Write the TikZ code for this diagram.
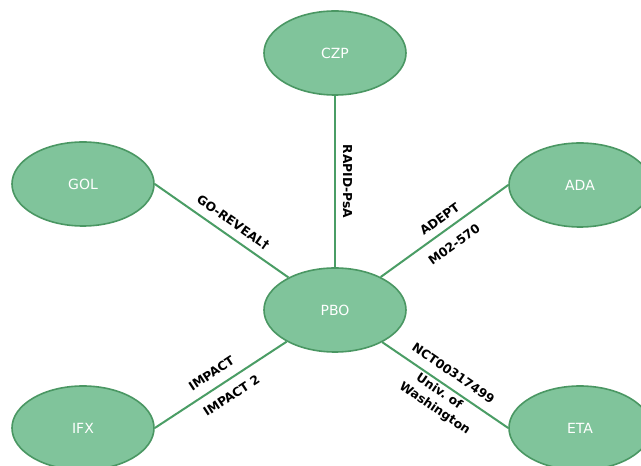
\documentclass[tikz,border=0pt]{standalone}
\usepackage{fontspec}
\setmainfont{DejaVu Sans}
\usetikzlibrary{shapes.geometric}
\definecolor{nodefill}{HTML}{80C49B}
\definecolor{nodeline}{HTML}{4A9763}
\definecolor{edgeline}{HTML}{4A9D65}
\begin{document}
\begin{tikzpicture}[x=1pt,y=1pt,
  ent/.style={ellipse, draw=nodeline, line width=1.6pt, fill=nodefill,
    minimum width=142pt, minimum height=84pt, inner sep=0pt, text=white,
    font=\fontsize{14}{16}\selectfont},
  link/.style={draw=edgeline, line width=2pt},
  lbl/.style={sloped, font=\bfseries\fontsize{12.3}{14}\selectfont, text=black,
    inner sep=0pt}]
\useasboundingbox (0,0) rectangle (641,466);
\clip (0,0) rectangle (641,466);
\fill[white] (0,0) rectangle (641,466);
\node[ent] (czp) at (335,413) {CZP};
\node[ent] (gol) at (83,282) {GOL};
\node[ent] (ada) at (580,281) {ADA};
\node[ent] (pbo) at (335,156) {PBO};
\node[ent] (ifx) at (83,38) {IFX};
\node[ent] (eta) at (580,38) {ETA};
\draw[link] (czp) -- node[pos=0.5, xshift=12.5pt, rotate=-90, font=\bfseries\fontsize{12.3}{14}\selectfont, inner sep=0pt] {RAPID-PsA} (pbo);
\draw[link] (gol.east) -- node[lbl, pos=0.53, yshift=13pt] {GO-REVEAL†} (pbo);
\draw[link] (pbo) -- node[lbl, pos=0.52, yshift=12.5pt] {ADEPT}
                     node[lbl, pos=0.5, yshift=-16.5pt] {M02-570} (ada.west);
\draw[link] (ifx.east) -- node[lbl, pos=0.49, yshift=14.6pt] {IMPACT}
                          node[lbl, pos=0.52, yshift=-14.8pt] {IMPACT 2} (pbo);
\draw[link] (pbo) -- node[lbl, pos=0.5, yshift=14.6pt] {NCT00317499}
                     node[lbl, pos=0.49, yshift=-7.6pt] {Univ.\ of}
                     node[lbl, pos=0.53, yshift=-25.6pt] {Washington} (eta.west);
\end{tikzpicture}
\end{document}
